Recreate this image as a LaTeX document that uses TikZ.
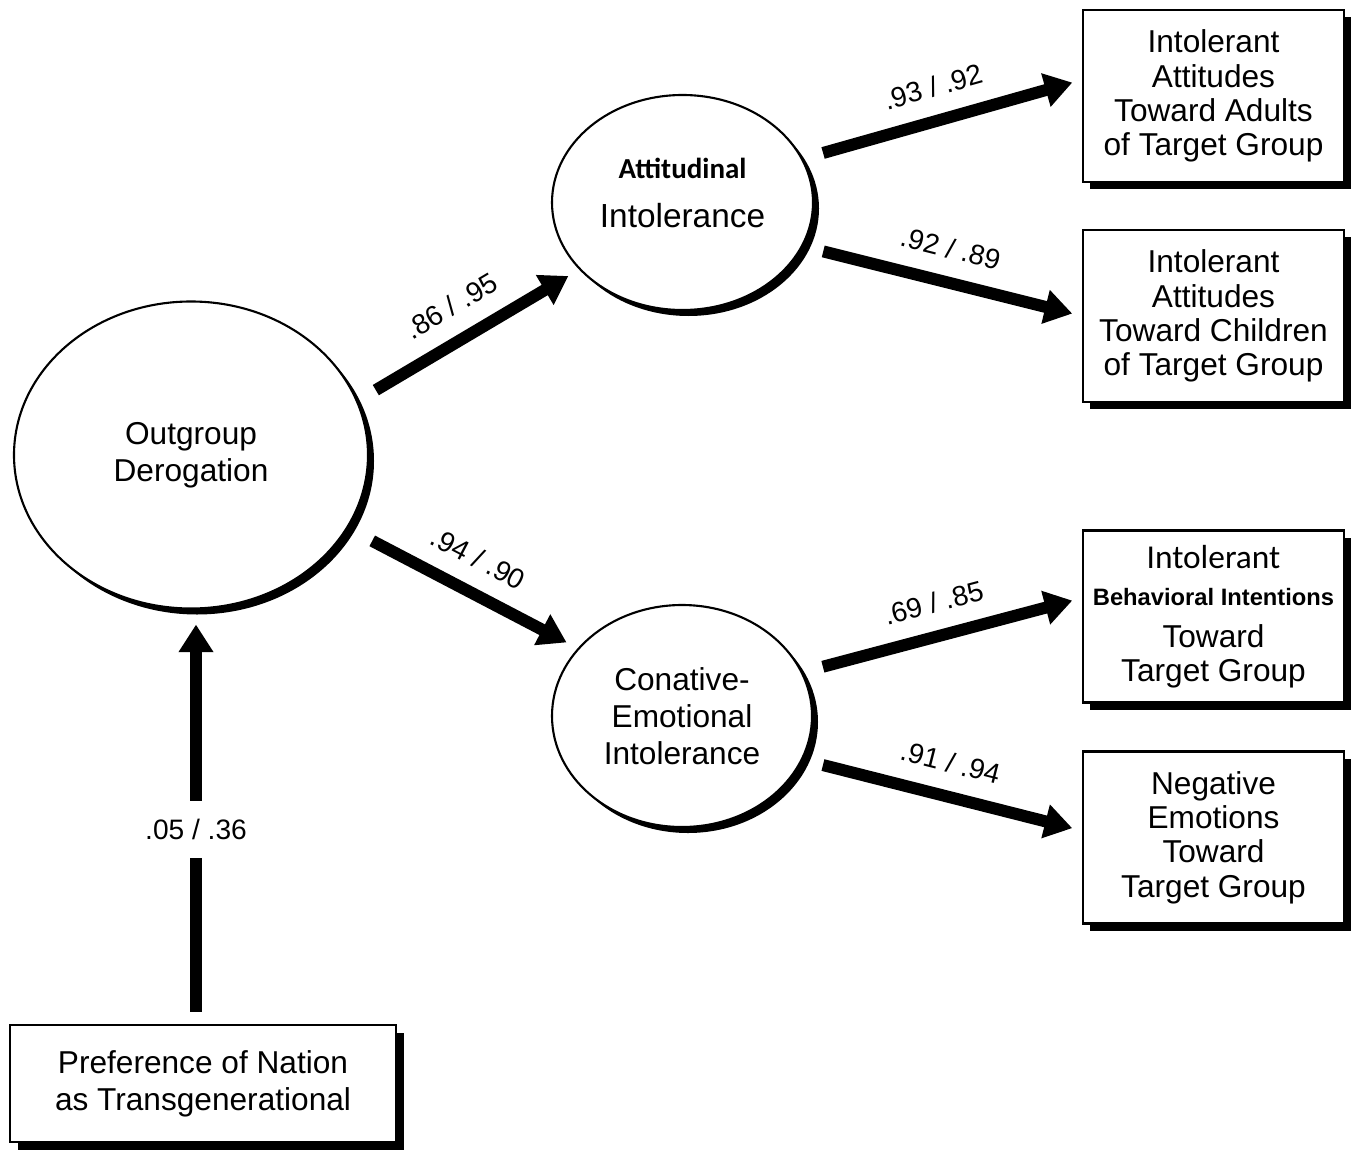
\documentclass[tikz,border=0pt]{standalone}
\usepackage{fontspec}
\setmainfont{Liberation Sans}
\newfontfamily\carlito{Carlito}
\usetikzlibrary{arrows.meta, shapes, shadows}

\begin{document}
\begin{tikzpicture}[
  latent/.style={ellipse, draw=black, fill=white, align=center,
    inner sep=0pt, font=\fontsize{18}{21}\selectfont,
    drop shadow={shadow xshift=.12cm, shadow yshift=-.12cm, fill=black, opacity=1}},
  %
  indicator/.style={rectangle, draw=black, fill=white, align=center,
    minimum width=5.22cm, minimum height=3.44cm, inner sep=1pt,
    font=\fontsize{18}{19.5}\selectfont,
    drop shadow={shadow xshift=.14cm, shadow yshift=-.14cm, fill=black, opacity=1}},
  %
  predictor/.style={rectangle, draw=black, fill=white, align=center,
    minimum width=7.72cm, minimum height=2.34cm, inner sep=1pt,
    font=\fontsize{18}{21}\selectfont,
    drop shadow={shadow xshift=.16cm, shadow yshift=-.16cm, fill=black, opacity=1}},
  %
  effect/.style={-{Triangle[length=.55cm, width=.66cm]}, line width=.24cm,
    shorten <=.42cm, shorten >=.25cm},
  %
  coef/.style={sloped, above, midway, inner sep=.35cm,
    font=\fontsize{16}{18}\selectfont}
  ]

  \tikzset{every path/.style={line width=1.2pt}}
  \useasboundingbox (0,0) rectangle (27.14,-23.04);

  \begin{scope}
    %%%%%%%%%%%%%%%%%%%%%%%%%%%%%%%
    \node [latent, minimum width=7.08cm, minimum height=6.14cm] (outgroup)
      at (3.82,-9.1) {Outgroup\\Derogation};
    \node [latent, minimum width=5.22cm, minimum height=4.3cm] (attitudinal)
      at (13.65,-4.05) {\carlito\bfseries\fontsize{16.5}{18}\selectfont Attitudinal\\[7pt]
      \mdseries\fontsize{19}{21}\selectfont Intolerance\\[-10pt]\mbox{}};
    \node [latent, minimum width=5.2cm, minimum height=4.44cm] (conative)
      at (13.64,-14.32) {Conative-\\Emotional\\Intolerance};
    %%%%%%%%%%%%%%%%%%%%%%%%%%%%%%%
    \node [indicator] (adults) at (24.27,-1.92)
      {Intolerant\\Attitudes\\Toward Adults\\of Target Group};
    \node [indicator] (children) at (24.27,-6.32)
      {Intolerant\\Attitudes\\Toward Children\\of Target Group};
    \node [indicator] (intentions) at (24.27,-12.33)
      {\carlito\fontsize{19}{21}\selectfont Intolerant\\[2pt]
      \bfseries\fontsize{13.5}{16}\selectfont Behavioral Intentions\\[4pt]
      \rmfamily\mdseries\fontsize{18}{19.5}\selectfont Toward\\Target Group};
    \node [indicator] (emotions) at (24.27,-16.75)
      {Negative\\Emotions\\Toward\\Target Group};
    %%%%%%%%%%%%%%%%%%%%%%%%%%%%%%%
    \node [predictor] (nation) at (4.06,-21.67)
      {Preference of Nation\\as Transgenerational};
  \end{scope}

  \begin{scope}
    \draw [effect] (outgroup.18) -- (attitudinal.213)
      node [coef] {.86 / .95};
    \draw [effect, shorten <=.55cm] (outgroup.-25) -- (conative.147)
      node [coef] {.94 / .90};
    \draw [effect, shorten >=.2cm] (attitudinal.20) -- (adults.173)
      node [coef] {.93 / .92};
    \draw [effect, shorten >=.2cm] (attitudinal.-20) -- (children.west)
      node [coef] {.92 / .89};
    \draw [effect, shorten >=.2cm] (conative.20) -- (intentions.172)
      node [coef] {.69 / .85};
    \draw [effect, shorten >=.2cm] (conative.-20) -- (emotions.177)
      node [coef] {.91 / .94};
    \draw [effect, shorten <=.24cm, shorten >=.3cm]
      ([xshift=.1cm]nation.north -| outgroup.south) -- ([xshift=.1cm]outgroup.south)
      node [fill=white, pos=.47, inner xsep=2pt, inner ysep=.36cm,
        font=\fontsize{16}{18}\selectfont] {.05 / .36};
  \end{scope}

\end{tikzpicture}
\end{document}
